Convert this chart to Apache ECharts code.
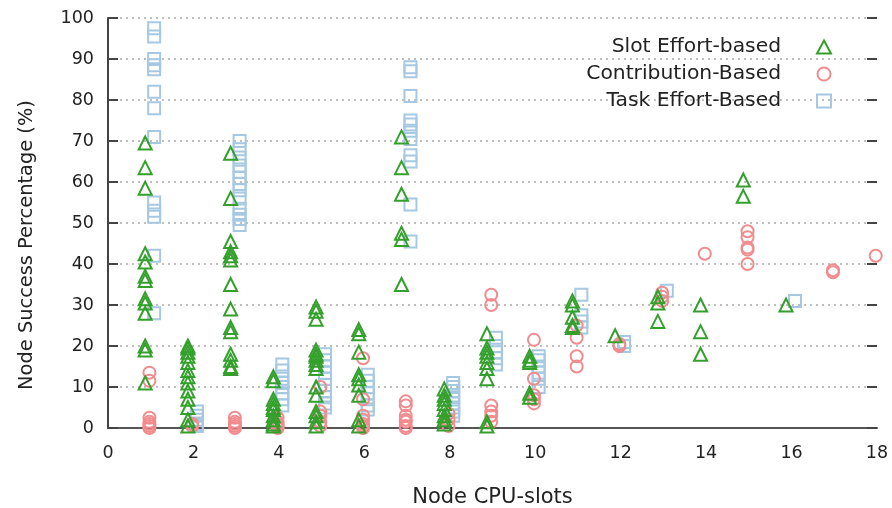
<!DOCTYPE html>
<html><head><meta charset="utf-8">
<script src="https://cdn.jsdelivr.net/npm/echarts@6/dist/echarts.min.js"></script>
<style>html,body{margin:0;padding:0;background:#fff}#c{width:892px;height:508px}</style>
</head><body><div id="c"></div>
<script>
const seriesNames = ['Slot Effort-based', 'Contribution-Based', 'Task Effort-Based'];
const xTicks = [0, 2, 4, 6, 8, 10, 12, 14, 16, 18];
const yTicks = [0, 10, 20, 30, 40, 50, 60, 70, 80, 90, 100];

// [node CPU-slots, success %]
const slotEffort = [
 [1,69.5],[1,63.5],[1,58.5],[1,42.5],[1,40.5],[1,37],[1,36],[1,31.5],[1,30.5],[1,28],[1,20],[1,19],[1,11],
 [2,20],[2,19.5],[2,18.5],[2,17.5],[2,16],[2,14],[2,12.5],[2,11],[2,9],[2,7],[2,5],[2,2],[2,0.5],
 [3,67],[3,56],[3,45.5],[3,43],[3,42],[3,41],[3,35],[3,29],[3,24.5],[3,23.5],[3,18],[3,16.5],[3,15],[3,14.5],
 [4,12.5],[4,11.5],[4,7],[4,6],[4,5],[4,4.5],[4,3],[4,2],[4,1],[4,0.5],
 [5,29.5],[5,28.5],[5,26.5],[5,19],[5,18],[5,17.5],[5,16.5],[5,15.5],[5,14.5],[5,10],[5,8],[5,4],[5,3],[5,1.5],[5,0.5],
 [6,24],[6,23],[6,18.5],[6,13],[6,12],[6,10.5],[6,8],[6,2],[6,0.5],
 [7,71],[7,63.5],[7,57],[7,47.5],[7,46],[7,35],
 [8,9.5],[8,8],[8,7],[8,6],[8,4.5],[8,3],[8,2],[8,1],
 [9,23],[9,19.5],[9,18.5],[9,17.5],[9,16],[9,14.5],[9,12],[9,1.5],[9,0.5],
 [10,17.5],[10,16.5],[10,16],[10,8.5],[10,7.5],
 [11,31],[11,30],[11,27],[11,25],[11,24.5],
 [12,22.5],
 [13,32],[13,30.5],[13,26],
 [14,30],[14,23.5],[14,18],
 [15,60.5],[15,56.5],
 [16,30]
];
const contribution = [
 [1,13.5],[1,11.5],[1,2.5],[1,1.5],[1,1],[1,0.5],[1,0],
 [2,1],[2,0.5],
 [3,2.5],[3,1.5],[3,1],[3,0.5],[3,0],
 [4,2.5],[4,1.5],[4,1],[4,0.5],[4,0],
 [5,10],[5,4],[5,3],[5,1.5],[5,0.5],
 [6,17],[6,7],[6,3],[6,2],[6,1],[6,0.5],[6,0],
 [7,6.5],[7,5.5],[7,3],[7,2],[7,1.5],[7,0.5],[7,0],
 [8,3.5],[8,2],[8,0.5],
 [9,32.5],[9,30],[9,5.5],[9,4],[9,3],[9,1.5],
 [10,21.5],[10,12],[10,8],[10,7],[10,6],
 [11,25],[11,22],[11,17.5],[11,15],
 [12,20.5],[12,20],
 [13,33],[13,32],[13,31],
 [14,42.5],
 [15,48],[15,46.5],[15,44],[15,43.5],[15,40],
 [17,38.5],[17,38],
 [18,42]
];
const taskEffort = [
 [1,97.5],[1,95.5],[1,90],[1,88.5],[1,87.5],[1,82],[1,78],[1,71],[1,55],[1,53],[1,51.5],[1,42],[1,28],
 [2,4],[2,3],[2,2],[2,1],[2,0.5],
 [3,70],[3,68],[3,66],[3,64],[3,62.5],[3,61],[3,59.5],[3,58],[3,56],[3,53.5],[3,52],[3,51],[3,49.5],
 [4,15.5],[4,14],[4,12],[4,11],[4,10],[4,8.5],[4,7],[4,5.5],
 [5,18],[5,16.5],[5,15],[5,13.5],[5,12],[5,10.5],[5,9],[5,7.5],[5,6],[5,5],
 [6,13],[6,11.5],[6,10],[6,8.5],[6,7],[6,5.5],[6,4.5],
 [7,88],[7,87],[7,81],[7,75],[7,74],[7,72.5],[7,70.5],[7,66.5],[7,65],[7,54.5],[7,45.5],
 [8,11],[8,10],[8,9],[8,7.5],[8,6],[8,5],[8,4],[8,3],
 [9,22],[9,20],[9,18.5],[9,17],[9,15.5],
 [10,17.5],[10,16.5],[10,15],[10,13.5],[10,12],[10,10],
 [11,32.5],[11,27.5],[11,26],[11,24.5],
 [12,21],[12,20],
 [13,33.5],
 [16,31]
];

const offsets = [-0.13, -0.03, 0.08];
const colors = ['#34a02c', '#f28b8e', '#a6c8e2'];
const symbols = ['triangle', 'circle', 'rect'];
const sizes = [13, 12, 12];
const datasets = [slotEffort, contribution, taskEffort];

const FONT = 'DejaVu Sans';
const chart = echarts.init(document.getElementById('c'), null, {renderer: 'canvas'});
const series = datasets.map((d, i) => ({
  name: seriesNames[i],
  type: 'scatter',
  symbol: symbols[i],
  symbolSize: sizes[i],
  data: d.map(p => [p[0] + offsets[i], p[1]]),
  itemStyle: {color: 'rgba(255,255,255,0)', borderColor: colors[i], borderWidth: 2, opacity: 1},
  emphasis: {disabled: true},
  z: 3 - i
}));

const yAxisBase = {
  type: 'value', min: 0, max: 100, interval: 10,
  axisLine: {show: false},
  axisTick: {show: true, inside: true, length: 10, lineStyle: {color: '#444', width: 2}},
  splitLine: {show: false}
};

chart.setOption({
  animation: false,
  backgroundColor: '#fff',
  grid: {left: 108, right: 15, top: 18, bottom: 80, containLabel: false, outerBoundsMode: 'none'},
  legend: {
    orient: 'vertical', right: 55, top: 31, align: 'right',
    itemWidth: 14, itemHeight: 13, itemGap: 5,
    textStyle: {fontFamily: FONT, fontSize: 20.3, color: '#222', lineHeight: 22, padding: [0, 31, 0, 0]},
    data: seriesNames.map((n, i) => ({name: n, icon: symbols[i]}))
  },
  xAxis: {
    type: 'value', min: 0, max: 18, interval: 2,
    axisLine: {show: true, onZero: false, lineStyle: {color: '#555', width: 2}},
    axisTick: {show: false},
    axisLabel: {fontFamily: FONT, fontSize: 17.5, color: '#222', margin: 16,
      formatter: v => xTicks.includes(v) ? String(v) : ''},
    splitLine: {show: false},
    name: 'Node CPU-slots', nameLocation: 'middle', nameGap: 59,
    nameTextStyle: {fontFamily: FONT, fontSize: 21, color: '#222'}
  },
  yAxis: [
    Object.assign({}, yAxisBase, {
      position: 'left',
      axisLine: {show: true, lineStyle: {color: '#444', width: 2}},
      axisLabel: {fontFamily: FONT, fontSize: 17.5, color: '#222', margin: 14,
        formatter: v => yTicks.includes(v) ? String(v) : ''},
      splitLine: {show: true, lineStyle: {color: '#aaa', type: [2, 4], width: 1.5}},
      name: 'Node Success Percentage (%)', nameLocation: 'middle', nameGap: 72,
      nameTextStyle: {fontFamily: FONT, fontSize: 19.4, color: '#222', padding: [0, 44, 0, 0]}
    }),
    Object.assign({}, yAxisBase, {position: 'right', axisLabel: {show: false}})
  ],
  series: series
});
</script>
</body></html>
